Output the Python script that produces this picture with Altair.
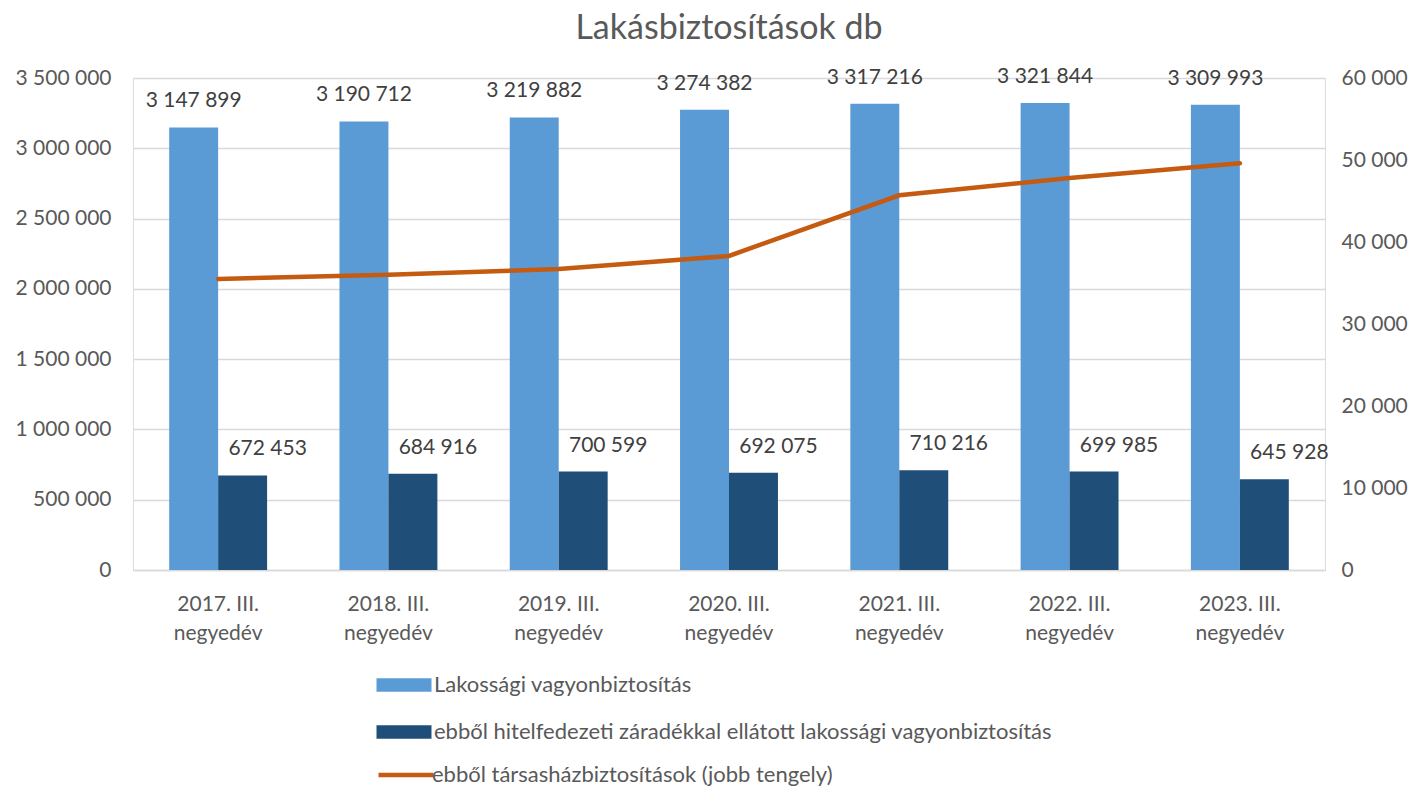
import altair as alt
import pandas as pd

periods = [
    "2017. III. negyedév",
    "2018. III. negyedév",
    "2019. III. negyedév",
    "2020. III. negyedév",
    "2021. III. negyedév",
    "2022. III. negyedév",
    "2023. III. negyedév",
]
lakossagi = [3147899, 3190712, 3219882, 3274382, 3317216, 3321844, 3309993]
hitelfedezeti = [672453, 684916, 700599, 692075, 710216, 699985, 645928]
tarsashaz = [35500, 36000, 36700, 38300, 45700, 47800, 49600]

s1 = "Lakossági vagyonbiztosítás"
s2 = "ebből hitelfedezeti záradékkal ellátott lakossági vagyonbiztosítás"
s3 = "ebből társasházbiztosítások (jobb tengely)"

left_ticks = [0, 500000, 1000000, 1500000, 2000000, 2500000, 3000000, 3500000]
right_ticks = [0, 10000, 20000, 30000, 40000, 50000, 60000]

FONT = "Lato"
AXIS_COLOR = "#595959"
LABEL_COLOR = "#404040"
GRID = "#D9D9D9"

bars_df = pd.DataFrame({
    "period": periods * 2,
    "series": [s1] * len(periods) + [s2] * len(periods),
    "value": lakossagi + hitelfedezeti,
})
bars_df["label"] = [f"{v:,}".replace(",", " ") for v in bars_df["value"]]
line_df = pd.DataFrame({"period": periods, "series": s3, "value": tarsashaz})

num_expr = "replace(format(datum.value, ','), regexp(',', 'g'), ' ')"

x_enc = alt.X(
    "period:N",
    sort=periods,
    scale=alt.Scale(paddingInner=0.425, paddingOuter=0.2125),
    axis=alt.Axis(
        title=None,
        labelExpr="[replace(datum.label, ' negyedév', ''), 'negyedév']",
        labelAngle=0,
        labelFont=FONT,
        labelFontSize=21,
        labelColor=AXIS_COLOR,
        labelLineHeight=29,
        labelPadding=23,
        ticks=False,
        domainColor=GRID,
        domainWidth=1.5,
        grid=False,
    ),
)

y_left = alt.Y(
    "value:Q",
    scale=alt.Scale(domain=[0, 3500000], nice=False),
    axis=alt.Axis(
        title=None,
        values=left_ticks,
        labelExpr=num_expr,
        labelFont=FONT,
        labelFontSize=21,
        labelColor=AXIS_COLOR,
        labelPadding=22,
        ticks=False,
        domain=False,
        grid=True,
        gridColor=GRID,
        gridWidth=1.5,
    ),
)

x_off = alt.XOffset("series:N", sort=[s1, s2], scale=alt.Scale(paddingInner=0, paddingOuter=0))

base = alt.Chart(bars_df).encode(x=x_enc, xOffset=x_off, y=y_left)

bars = base.mark_bar().encode(
    fill=alt.Fill(
        "series:N",
        sort=[s1, s2],
        scale=alt.Scale(domain=[s1, s2], range=["#5B9BD5", "#1F4E79"]),
        legend=alt.Legend(
            title=None,
            orient="none",
            legendX=257,
            legendY=593,
            direction="vertical",
            symbolType="M-2,-0.5L2,-0.5L2,0.5L-2,0.5Z",
            symbolSize=756,
            symbolStrokeWidth=0,
            labelFont=FONT,
            labelFontSize=22,
            labelColor=AXIS_COLOR,
            labelLimit=1000,
            labelOffset=16,
            rowPadding=22,
        ),
    )
)

text1 = base.transform_filter(alt.datum.series == s1).mark_text(
    dy=-26, baseline="middle", font=FONT, fontSize=21, color=LABEL_COLOR
).encode(text="label:N")

text2 = base.transform_filter(alt.datum.series == s2).mark_text(
    dy=-26, dx=25, baseline="middle", font=FONT, fontSize=21, color=LABEL_COLOR
).encode(text="label:N")

left_layer = alt.layer(bars, text1, text2)

line = alt.Chart(line_df).mark_line(strokeWidth=4.5, strokeCap="round").encode(
    x=x_enc,
    y=alt.Y(
        "value:Q",
        scale=alt.Scale(domain=[0, 60000], nice=False),
        axis=alt.Axis(
            title=None,
            orient="right",
            values=right_ticks,
            labelExpr=num_expr,
            labelFont=FONT,
            labelFontSize=21,
            labelColor=AXIS_COLOR,
            labelPadding=16,
            ticks=False,
            domain=False,
            grid=False,
        ),
    ),
    stroke=alt.Stroke(
        "series:N",
        scale=alt.Scale(domain=[s3], range=["#C55A11"]),
        legend=alt.Legend(
            title=None,
            orient="none",
            legendX=257,
            legendY=681,
            symbolType="M-2,0L2,0",
            symbolSize=756,
            symbolStrokeWidth=4.5,
            labelFont=FONT,
            labelFontSize=22,
            labelColor=AXIS_COLOR,
            labelLimit=1000,
            labelOffset=10,
        ),
    ),
)

chart = (
    alt.layer(left_layer, line)
    .resolve_scale(y="independent")
    .properties(
        width=1192,
        height=492,
        autosize=alt.AutoSizeParams(type="none"),
        padding={"left": 125, "top": 70, "right": 86, "bottom": 216},
        title=alt.TitleParams(
            "Lakásbiztosítások db",
            font=FONT,
            fontSize=34,
            fontWeight="normal",
            color=AXIS_COLOR,
            anchor="middle",
            offset=20,
        ),
    )
    .configure_view(stroke=None)
    .configure(background="white")
)

chart.save("out.html", embed_options={"renderer": "svg", "actions": False})
